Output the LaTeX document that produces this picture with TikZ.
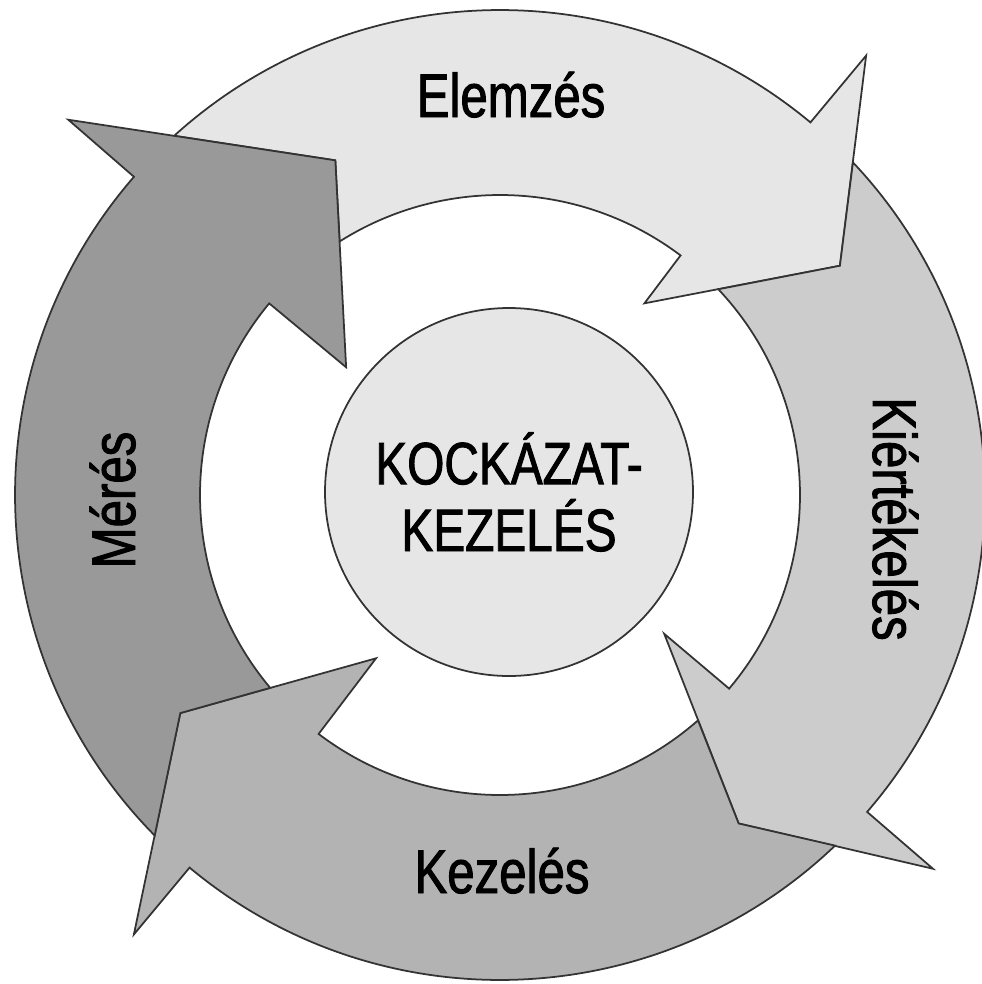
\documentclass[tikz,border=0pt]{standalone}
\usepackage{fontspec}
\setmainfont{Liberation Sans}[FakeStretch=0.8, FakeBold=1.5]
\definecolor{ink}{RGB}{51,51,51}
\definecolor{paleband}{RGB}{230,230,230}
\definecolor{lightband}{RGB}{204,204,204}
\definecolor{midband}{RGB}{179,179,179}
\definecolor{darkband}{RGB}{153,153,153}
\tikzset{
  band/.style={draw=ink, line width=0.5pt, fill=#1, line join=miter},
  band/.default={paleband},
  lbl/.style={font=\fontsize{17.5}{21}\selectfont, inner sep=0pt},
  core/.style={circle, draw=ink, line width=0.5pt, fill=paleband, minimum size=3.68cm, inner sep=0pt, align=center, font=\fontsize{17}{19}\selectfont}
}
\begin{document}
\begin{tikzpicture}
  \useasboundingbox (0,0) rectangle (9.82,-9.84);
  \begin{scope}[shift={(5.00,-4.95)}]
    % tips of the four arrow heads
    \coordinate (tipE) at (34:4.10);
    \coordinate (tipK) at (-54:4.06);
    \coordinate (tipZ) at (-145.7:3.87);
    \coordinate (tipM) at (116.2:3.73);
    % tail angles / head angles (outer, inner) / tip / inner barb / previous tip / fill
    \foreach \ao/\ai/\bo/\bi/\tip/\rb/\prev/\shade in {
        132.2/122.3/50.2/53.0/tipE/2.40/tipM/paleband,
        43.3/43.3/-40.8/-40.2/tipK/2.15/tipE/lightband,
        -46.3/-48.7/-129.8/-127.2/tipZ/2.05/tipK/midband,
        -135.4/-140.0/-221.0/-219.7/tipM/2.00/tipZ/darkband}
      \filldraw[band=\shade] (\ao:4.85) arc[start angle=\ao, end angle=\bo, radius=4.85]
        -- (\bo:5.72) -- (\tip) -- (\bi:\rb) -- (\bi:3.0)
        arc[start angle=\bi, end angle=\ai, radius=3.0] -- (\prev) -- cycle;
  \end{scope}
  \node[core] (kockazat) at (5.09,-4.92) {KOCKÁZAT-\\KEZELÉS};
  \node[lbl, anchor=base] (elemzes) at (5.11,-1.17) {Elemzés};
  \node[lbl, anchor=base, rotate=-90] (kiertekeles) at (8.73,-5.19) {Kiértékelés};
  \node[lbl, anchor=base] (kezeles) at (5.02,-8.93) {Kezelés};
  \node[lbl, anchor=base, rotate=90] (meres) at (1.35,-5.00) {Mérés};
\end{tikzpicture}
\end{document}
